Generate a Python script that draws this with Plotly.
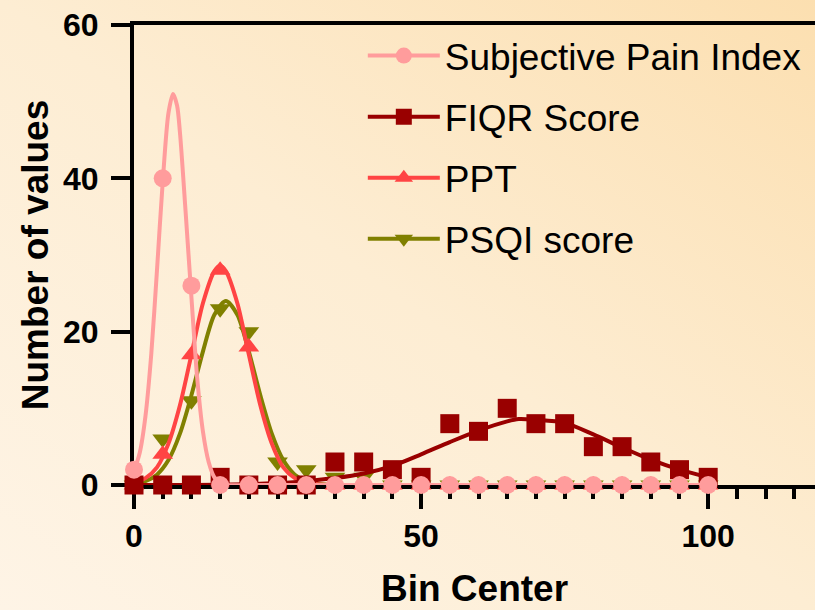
import base64
import plotly.graph_objects as go

# ---------------- data ----------------
bin_centers = [0, 5, 10, 15, 20, 25, 30, 35, 40, 45, 50, 55, 60, 65, 70, 75, 80, 85, 90, 95, 100]

pain_values = [2, 40, 26, 0, 0, 0, 0, 0, 0, 0, 0, 0, 0, 0, 0, 0, 0, 0, 0, 0, 0]
fiqr_values = [0, 0, 0, 1, 0, 0, 0, 3, 3, 2, 1, 8, 7, 10, 8, 8, 5, 5, 3, 2, 1]
ppt_values = [0, 4, 17, 28, 18, 0, 0, 0, 0, 0, 0, 0, 0, 0, 0, 0, 0, 0, 0, 0, 0]
psqi_values = [0, 6, 11, 23, 20, 3, 2, 1, 1, 0, 0, 0, 0, 0, 0, 0, 0, 0, 0, 0, 0]

# fitted curves
pain_fit_x = [0, 1, 2, 3, 4, 5, 6, 6.8, 7.5, 8, 9, 10, 11, 12, 13, 14, 15, 16, 20, 50, 100]
pain_fit_y = [1.8, 4.2, 9, 17, 28, 39.5, 48.5, 51, 49.5, 46, 35.5, 24.5, 14, 7, 3, 1, 0.3, 0, 0, 0, 0]

fiqr_fit_x = [0, 10, 20, 25, 30, 35, 40, 45, 50, 55, 60, 65, 67, 70, 75, 80, 85, 90, 95, 100]
fiqr_fit_y = [0, 0, 0.1, 0.25, 0.5, 0.9, 1.5, 2.5, 4.0, 5.6, 7.1, 8.3, 8.6, 8.5, 8.1, 6.6, 4.9, 3.3, 2.0, 1.0]

ppt_fit_x = [0, 2, 4, 6, 8, 10, 12, 14, 15, 16, 18, 20, 22, 24, 26, 28, 30, 32, 35, 60, 100]
ppt_fit_y = [0.3, 0.9, 2.3, 5.4, 10.4, 17, 23.7, 27.9, 28.6, 27.9, 23.7, 17, 10.4, 5.4, 2.3, 0.9, 0.3, 0.1, 0, 0, 0]

psqi_fit_x = [0, 2, 4, 6, 8, 10, 12, 14, 16, 18, 20, 22, 24, 26, 28, 30, 32, 35, 60, 100]
psqi_fit_y = [0.14, 0.5, 1.35, 3.25, 6.7, 11.7, 17.4, 22.2, 24, 22.2, 17.4, 11.7, 6.7, 3.25, 1.35, 0.5, 0.14, 0, 0, 0]

series_names = ["Subjective Pain Index", "FIQR Score", "PPT", "PSQI score"]
x_tick_vals = [0, 50, 100]
y_tick_vals = [0, 20, 40, 60]

# ---------------- style ----------------
PINK = "#FF9C9C"
DARKRED = "#990000"
RED = "#FF4444"
OLIVE = "#808000"
styles = {
    "Subjective Pain Index": dict(color=PINK, symbol="circle", size=18),
    "FIQR Score": dict(color=DARKRED, symbol="square", size=19),
    "PPT": dict(color=RED, symbol="triangle-up", size=18),
    "PSQI score": dict(color=OLIVE, symbol="triangle-down", size=18),
}

W, H = 815, 610
ML, MR, MT, MB = 134, 0, 25, 125
pw, ph = W - ML - MR, H - MT - MB

fig = go.Figure()

# legend entries (no visible marks)
for name in series_names:
    st = styles[name]
    fig.add_trace(go.Scatter(
        x=[None], y=[None], mode="lines+markers", name=name,
        legendgroup=name, showlegend=True,
        line=dict(color=st["color"], width=4),
        marker=dict(color=st["color"], symbol=st["symbol"], size=st["size"]),
    ))

draw_order = [
    ("PSQI score", psqi_fit_x, psqi_fit_y, psqi_values),
    ("PPT", ppt_fit_x, ppt_fit_y, ppt_values),
    ("FIQR Score", fiqr_fit_x, fiqr_fit_y, fiqr_values),
    ("Subjective Pain Index", pain_fit_x, pain_fit_y, pain_values),
]
for name, fx, fy, vals in draw_order:
    st = styles[name]
    fig.add_trace(go.Scatter(
        x=fx, y=fy, mode="lines", showlegend=False, hoverinfo="skip",
        line=dict(color=st["color"], width=4, shape="spline", smoothing=0.8),
        cliponaxis=False,
    ))
    fig.add_trace(go.Scatter(
        x=bin_centers, y=vals, mode="markers", showlegend=False, name=name,
        marker=dict(color=st["color"], symbol=st["symbol"], size=st["size"],
                    line=dict(width=0)),
        cliponaxis=False,
    ))

# background gradient
svg = (
    f'<svg xmlns="http://www.w3.org/2000/svg" width="{W}" height="{H}" preserveAspectRatio="none">'
    '<defs><linearGradient id="g" x1="0" y1="1" x2="1" y2="0">'
    '<stop offset="0" stop-color="#FEF4E6"/>'
    '<stop offset="0.5" stop-color="#FDEDD3"/>'
    '<stop offset="1" stop-color="#FCDFB0"/>'
    '</linearGradient></defs>'
    f'<rect width="{W}" height="{H}" fill="url(#g)"/></svg>'
)
src = "data:image/svg+xml;base64," + base64.b64encode(svg.encode()).decode()

tick_font = dict(family="Liberation Sans, Arial, sans-serif", size=32, color="black", weight="bold")
title_font = dict(family="Liberation Sans, Arial, sans-serif", size=37, color="black", weight="bold")

fig.update_layout(
    width=W, height=H,
    margin=dict(l=ML, r=MR, t=MT, b=MB, autoexpand=False),
    paper_bgcolor="#FDEDD3",
    plot_bgcolor="rgba(0,0,0,0)",
    images=[dict(
        source=src, xref="paper", yref="paper",
        x=-ML / pw, y=1 + MT / ph, sizex=W / pw, sizey=H / ph,
        xanchor="left", yanchor="top", sizing="stretch", layer="below",
    )],
    legend=dict(
        x=0.336, y=1.0, xanchor="left", yanchor="top",
        bgcolor="rgba(0,0,0,0)",
        font=dict(family="Liberation Sans, Arial, sans-serif", size=37, color="black"),
        traceorder="grouped", tracegroupgap=10, itemwidth=72,
    ),
    xaxis=dict(
        range=[0, 118.6], showgrid=False, zeroline=False,
        showline=True, linecolor="black", linewidth=4, mirror=True,
        ticks="outside", ticklen=20, tickwidth=4, tickcolor="black",
        tickvals=x_tick_vals, tickfont=tick_font,
        minor=dict(dtick=5, tick0=0, ticks="outside", ticklen=10, tickwidth=4, tickcolor="black", showgrid=False),
        title=dict(text="Bin Center", font=title_font, standoff=23),
        layer="below traces",
    ),
    yaxis=dict(
        range=[0, 60], showgrid=False, zeroline=False,
        showline=True, linecolor="black", linewidth=4,
        ticks="outside", ticklen=19, tickwidth=4, tickcolor="black",
        tickvals=y_tick_vals, tickfont=tick_font, ticklabelstandoff=6,
        title=dict(text="Number of values", font=title_font, standoff=4),
        layer="below traces",
    ),
)

fig.write_html(
    "out.html",
    config={"displayModeBar": False},
    post_script="document.body.style.margin='0';document.body.style.overflow='hidden';",
)
